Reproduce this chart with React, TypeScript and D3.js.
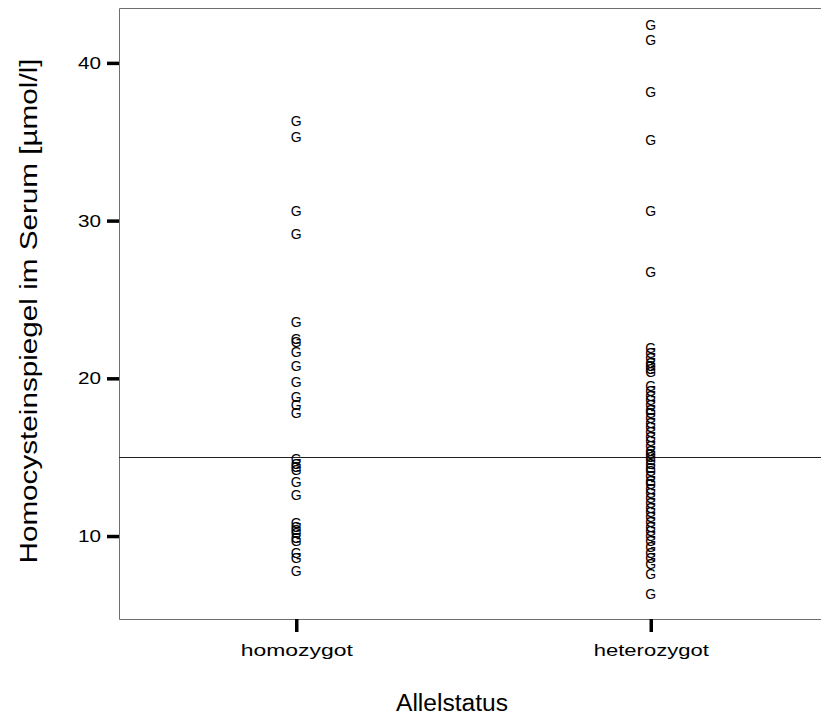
import { useEffect, useRef } from "react"
import * as d3 from "d3"

const categories = ["homozygot", "heterozygot"]

const homozygot = [
    36.3, 35.3, 30.6, 29.15, 23.6, 22.5, 22.3, 21.7, 20.8, 19.8, 18.8, 18.3, 17.8,
    14.9, 14.6, 14.4, 14.2, 13.4, 12.6, 10.8, 10.6, 10.4, 10.2, 9.9, 9.7, 8.9, 8.6, 7.8,
]

const heterozygot = [
    42.4, 41.45, 38.15, 35.1, 30.6, 26.75,
    21.9, 21.6, 21.3, 21.0, 20.8, 20.6, 20.4, 19.5, 19.2, 18.9, 18.6, 18.3, 18.0, 17.8,
    17.5, 17.2, 16.9, 16.6, 16.3, 16.0, 15.7, 15.4, 15.2, 15.0, 14.8, 14.6, 14.3, 14.1,
    13.8, 13.5, 13.3, 13.0, 12.7, 12.4, 12.1, 11.8, 11.5, 11.2, 10.9, 10.6, 10.3, 10.0,
    9.7, 9.3, 8.9, 8.6, 8.2, 7.6, 6.3,
]

const yTicks = [10, 20, 30, 40]
const referenceValue = 15

export default function App() {
    const svgRef = useRef<SVGSVGElement>(null)

    useEffect(() => {
        if (!svgRef.current) return
        const svg = d3.select(svgRef.current)
        svg.selectAll("*").remove()

        const left = 119, top = 8, right = 828, bottom = 619
        const font = "'Liberation Sans', Arial, sans-serif"

        const x = d3.scalePoint<string>()
            .domain(categories)
            .range([left, right])
            .padding(0.5)

        const y = d3.scaleLinear()
            .domain([4.74, 43.48])
            .range([bottom, top])

        // Frame
        svg.append("path")
            .attr("d", `M${right},${top + 0.5}H${left + 0.5}V${bottom + 0.5}H${right}`)
            .attr("fill", "none")
            .attr("stroke", "#6e6e6e")
            .attr("stroke-width", 1)

        // Reference line
        svg.append("line")
            .attr("x1", left).attr("x2", right)
            .attr("y1", Math.round(y(referenceValue)) + 0.5)
            .attr("y2", Math.round(y(referenceValue)) + 0.5)
            .attr("stroke", "#222")
            .attr("stroke-width", 1)

        // Y axis
        const yAxis = svg.append("g")
            .attr("transform", `translate(${left},0)`)
            .call(d3.axisLeft(y).tickValues(yTicks).tickSize(12).tickPadding(6))
        yAxis.select(".domain").remove()
        yAxis.selectAll(".tick line").attr("stroke", "#000").attr("stroke-width", 3.5)
        yAxis.selectAll(".tick text")
            .attr("fill", "#000")
            .attr("textLength", 23)
            .attr("lengthAdjust", "spacingAndGlyphs")
            .style("font-family", font)
            .style("font-size", "17px")

        // X axis
        const xAxis = svg.append("g")
            .attr("transform", `translate(0,${bottom})`)
            .call(d3.axisBottom(x).tickSize(13).tickPadding(13))
        xAxis.select(".domain").remove()
        xAxis.selectAll(".tick line").attr("stroke", "#000").attr("stroke-width", 3.5)
        xAxis.selectAll(".tick text")
            .attr("fill", "#000")
            .attr("textLength", (d: any) => (d === "homozygot" ? 112 : 115))
            .attr("lengthAdjust", "spacingAndGlyphs")
            .style("font-family", font)
            .style("font-size", "16px")

        // Markers
        const series = [
            { key: "homozygot", values: homozygot },
            { key: "heterozygot", values: heterozygot },
        ]
        series.forEach(s => {
            svg.append("g")
                .selectAll("text")
                .data(s.values)
                .join("text")
                .attr("x", x(s.key)!)
                .attr("y", d => y(d))
                .attr("dy", "0.36em")
                .attr("text-anchor", "middle")
                .style("font-family", font)
                .style("font-size", "14px")
                .attr("fill", "#000")
                .text("G")
        })

        // Axis titles
        svg.append("text")
            .attr("transform", `translate(37,311) rotate(-90)`)
            .attr("text-anchor", "middle")
            .attr("textLength", 505)
            .attr("lengthAdjust", "spacingAndGlyphs")
            .style("font-family", font)
            .style("font-size", "23px")
            .attr("fill", "#000")
            .text("Homocysteinspiegel im Serum [µmol/l]")

        svg.append("text")
            .attr("x", 452)
            .attr("y", 711)
            .attr("text-anchor", "middle")
            .attr("textLength", 112)
            .attr("lengthAdjust", "spacingAndGlyphs")
            .style("font-family", font)
            .style("font-size", "23px")
            .attr("fill", "#000")
            .text("Allelstatus")
    }, [])

    return (
        <div style={{ position: "absolute", left: 0, top: 0, width: 821, height: 727, background: "#fff" }}>
            <svg ref={svgRef} width={821} height={727} style={{ display: "block" }} />
        </div>
    )
}
